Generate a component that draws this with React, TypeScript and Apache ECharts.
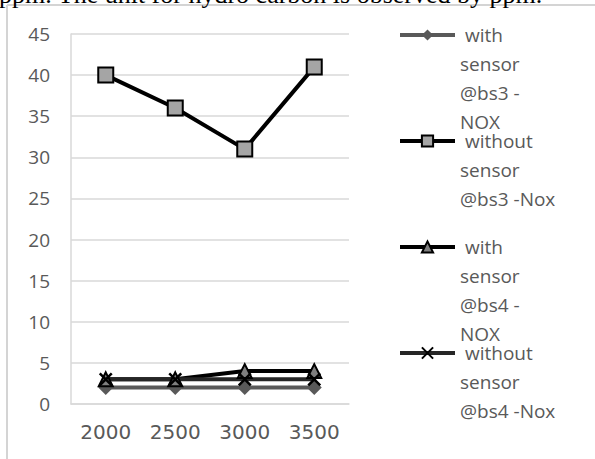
import React, { useEffect, useRef } from "react";
import * as echarts from "echarts";

// Engine speed categories (rpm) and NOx readings (ppm)
const speeds = ["2000", "2500", "3000", "3500"];
const seriesNames = [
  "with sensor @bs3 -NOX",
  "without sensor @bs3 -Nox",
  "with sensor @bs4 -NOX",
  "without sensor @bs4 -Nox",
];
const legendLabels = [
  " with\nsensor\n@bs3 -\nNOX",
  " without\nsensor\n@bs3 -Nox",
  " with\nsensor\n@bs4 -\nNOX",
  " without\nsensor\n@bs4 -Nox",
];
const withBs3 = [2, 2, 2, 2];
const withoutBs3 = [40, 36, 31, 41];
const withBs4 = [3, 3, 4, 4];
const withoutBs4 = [3, 3, 3, 3];
const yTicks = { min: 0, max: 45, interval: 5 };
const caption = "ppm. The unit for hydro carbon is observed by ppm.";

const FONT = '"Open Sans", "Noto Sans", sans-serif';
const LABEL_COLOR = "#595959";
const GRID_COLOR = "#d9d9d9";
const LINE_H = 29;

export default function App() {
  const ref = useRef<HTMLDivElement>(null);

  useEffect(() => {
    if (!ref.current) return;
    const chart = echarts.init(ref.current, undefined, { renderer: "svg" });

    const values = [withBs3, withoutBs3, withBs4, withoutBs4];
    const styles = [
      { line: "#595959", fill: "#595959", border: "#595959", symbol: "diamond", size: 15, bw: 0 },
      { line: "#000000", fill: "#a5a5a5", border: "#000000", symbol: "rect", size: 15, bw: 2 },
      { line: "#000000", fill: "#7f7f7f", border: "#000000", symbol: "triangle", size: 14, bw: 2 },
      { line: "#262626", fill: "none", border: "#000000", symbol: "path://M0,0L10,10M10,0L0,10", size: 12, bw: 2.5 },
    ];
    // icon centre for each legend entry
    const legendCenters = [35, 141, 247, 353];

    const legends = seriesNames.map((name, i) => {
      const lines = legendLabels[i].split("\n").length;
      // blank leading lines put the first real line level with the icon
      const label = "\n".repeat(lines - 1) + legendLabels[i];
      const half = (LINE_H * (2 * lines - 1)) / 2;
      return {
        data: [name],
        left: 398,
        top: legendCenters[i] - half,
        orient: "vertical",
        padding: 0,
        itemWidth: 55,
        itemHeight: 14,
        itemGap: 5,
        selectedMode: false,
        formatter: () => label,
        lineStyle: { width: 4 },
        textStyle: {
          fontFamily: FONT,
          fontSize: 19,
          color: LABEL_COLOR,
          lineHeight: LINE_H,
        },
      };
    });

    chart.setOption({
      animation: false,
      backgroundColor: "#ffffff",
      grid: { left: 71, right: 246, top: 34, bottom: 55, containLabel: false },
      xAxis: {
        type: "category",
        data: speeds,
        boundaryGap: true,
        axisLine: { show: true, lineStyle: { color: GRID_COLOR, width: 1.5 } },
        axisTick: { show: false },
        axisLabel: {
          fontFamily: '"DejaVu Sans", sans-serif',
          fontSize: 20,
          color: LABEL_COLOR,
          margin: 18,
        },
      },
      yAxis: {
        type: "value",
        min: yTicks.min,
        max: yTicks.max,
        interval: yTicks.interval,
        axisLine: { show: true, lineStyle: { color: GRID_COLOR, width: 1.5 } },
        axisTick: { show: false },
        splitLine: { show: true, lineStyle: { color: GRID_COLOR, width: 1.5 } },
        axisLabel: { fontFamily: FONT, fontSize: 19, color: LABEL_COLOR, margin: 21 },
      },
      legend: legends,
      series: seriesNames.map((name, i) => ({
        name,
        type: "line",
        data: values[i],
        symbol: styles[i].symbol,
        symbolSize: styles[i].size,
        lineStyle: { color: styles[i].line, width: 4 },
        itemStyle: {
          color: styles[i].fill,
          borderColor: styles[i].border,
          borderWidth: styles[i].bw,
        },
        emphasis: { disabled: true },
      })),
      graphic: [
        {
          type: "line",
          shape: { x1: 7, y1: 5, x2: 595, y2: 5 },
          style: { stroke: "#d4d4d4", lineWidth: 2 },
          silent: true,
        },
        {
          type: "line",
          shape: { x1: 7, y1: 5, x2: 7, y2: 459 },
          style: { stroke: "#d4d4d4", lineWidth: 2 },
          silent: true,
        },
        {
          type: "text",
          x: -1,
          y: -6,
          style: {
            text: caption,
            font: '26px "Liberation Serif", "Times New Roman", serif',
            fill: "#000000",
            verticalAlign: "middle",
          },
          silent: true,
        },
      ],
    });

    return () => chart.dispose();
  }, []);

  return (
    <div
      ref={ref}
      style={{ position: "fixed", left: 0, top: 0, width: 595, height: 459 }}
    />
  );
}
